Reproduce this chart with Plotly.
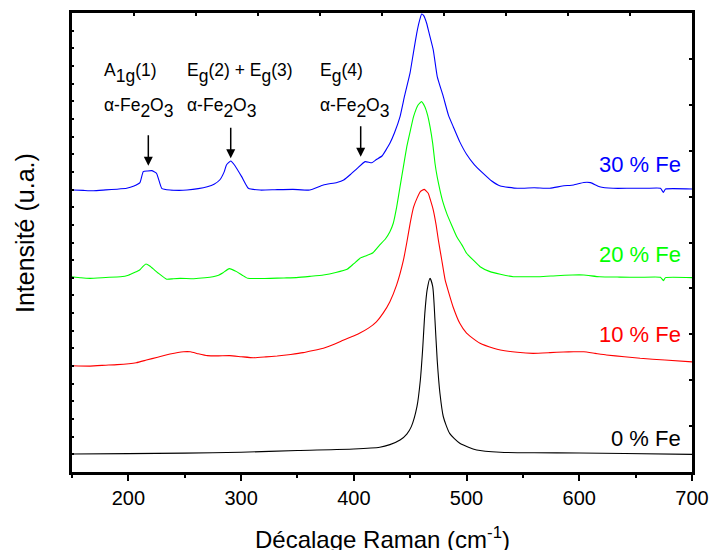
import plotly.graph_objects as go

# ---------------- data (arbitrary intensity units) ----------------
x_0 = [150, 200, 250, 300, 350, 400, 423, 432, 441, 447, 451, 456, 459, 461, 463, 465, 467.6,
       470, 472, 474, 476.4, 479.4, 485, 494, 509, 530, 560, 600, 640, 700]
y_0 = [1.02, 1.04, 1.07, 1.12, 1.22, 1.30, 1.40, 1.55, 1.81, 2.15, 2.57, 3.70, 5.2, 6.9, 9.0, 10.3, 10.97,
       10.5, 8.6, 6.3, 4.46, 3.13, 2.19, 1.63, 1.25, 1.12, 1.09, 1.08, 1.05, 1.00]

x_10 = [150, 166, 180, 190, 207, 216, 226, 237, 249, 255, 262, 270, 280, 290, 300, 311, 322, 332, 344, 355,
        364, 373, 382, 391, 398, 405, 413, 420, 426, 432, 438, 444, 447, 450, 453, 456, 459, 462.5, 466, 468,
        470.5, 473, 475, 478, 481, 484, 488, 494, 500, 503, 512, 524, 530, 545, 559, 574, 586, 595, 604, 614,
        624, 640, 654, 676, 700]
y_10 = [6.02, 6.00, 6.05, 6.08, 6.19, 6.34, 6.50, 6.68, 6.81, 6.81, 6.70, 6.59, 6.58, 6.59, 6.53, 6.47, 6.52,
        6.57, 6.66, 6.76, 6.88, 7.01, 7.22, 7.48, 7.66, 7.86, 8.15, 8.51, 9.0, 9.65, 10.6, 12.0, 13.0, 14.1,
        15.0, 15.5, 15.88, 16.01, 15.79, 15.4, 14.84, 14.0, 13.14, 12.01, 10.88, 10.2, 9.36, 8.42, 7.86, 7.70,
        7.29, 7.01, 6.91, 6.78, 6.72, 6.76, 6.80, 6.81, 6.81, 6.72, 6.63, 6.53, 6.44, 6.34, 6.24]

x_20 = [150, 158, 166, 180, 193, 200, 207, 210, 213, 215.6, 219, 223, 226.6, 234, 240, 246, 258, 268, 275,
        280, 284, 289.5, 296, 301, 306, 316, 326, 338, 349, 361, 373, 384, 394, 400, 405.5, 411, 417, 423,
        428, 432, 435, 438, 441, 444, 447, 450, 453, 457, 460, 463, 465.5, 467.6, 470, 472, 474, 476.4, 479,
        482.4, 487, 491.3, 496, 500, 506, 512, 520.8, 530, 541.5, 553, 565, 580, 594, 604, 618, 636, 654,
        672, 674.6, 676.5, 700]
y_20 = [11.06, 11.0, 10.97, 11.02, 11.06, 11.15, 11.35, 11.44, 11.65, 11.78, 11.67, 11.45, 11.26, 10.92,
        10.95, 10.97, 10.95, 11.00, 11.06, 11.15, 11.29, 11.52, 11.35, 11.15, 10.97, 10.96, 10.97, 10.99,
        11.01, 11.08, 11.16, 11.3, 11.48, 11.8, 12.11, 12.25, 12.42, 12.86, 13.2, 13.61, 14.09, 15.0, 16.16,
        17.3, 18.43, 19.3, 20.13, 20.79, 20.98, 20.69, 20.2, 19.56, 18.6, 17.49, 16.7, 15.97, 15.3, 14.65,
        13.95, 13.33, 12.85, 12.39, 12.0, 11.63, 11.35, 11.2, 11.06, 11.06, 11.06, 11.12, 11.16, 11.16,
        11.06, 11.04, 11.03, 11.03, 10.84, 11.01, 11.01]

x_30 = [151, 160, 169, 180, 190, 198.5, 205, 210.3, 213.2, 217, 220.7, 225, 229.6, 237, 245, 252, 262, 270,
        276, 281, 285, 287, 290.8, 294.6, 300.5, 306.4, 317, 330, 346, 361, 373, 385, 391, 397, 403, 410,
        416, 420, 425, 432, 436, 441, 445, 449.8, 453, 455.8, 458, 460.2, 462, 464.6, 467, 470.5, 474,
        479.4, 484, 488.2, 494, 500, 507, 515, 522, 530, 545, 560, 574, 585, 595, 604, 610, 618, 630, 645,
        660, 672, 674.6, 676.5, 700]
y_30 = [15.97, 15.95, 15.93, 15.98, 16.02, 16.07, 16.2, 16.39, 17.01, 17.05, 17.07, 16.92, 16.07, 15.97,
        15.95, 15.97, 16.05, 16.16, 16.3, 16.54, 17.0, 17.39, 17.62, 17.35, 16.73, 16.07, 15.97, 15.99,
        16.01, 15.97, 16.26, 16.4, 16.54, 16.85, 17.20, 17.58, 17.52, 17.7, 17.90, 18.62, 19.2, 20.13, 21.3,
        22.58, 23.8, 24.85, 25.5, 25.94, 25.85, 25.42, 24.8, 23.90, 22.4, 21.26, 20.2, 19.56, 18.7, 18.0,
        17.4, 16.9, 16.5, 16.2, 16.07, 16.1, 16.07, 16.2, 16.26, 16.4, 16.39, 16.16, 16.07, 16.07, 16.07,
        16.07, 15.84, 16.03, 16.03]

series_names = ["0 % Fe", "10 % Fe", "20 % Fe", "30 % Fe"]
series_colors = ["#000000", "#FF0000", "#00FF00", "#0000FF"]
label_levels = [1.9, 7.8, 12.3, 17.4]          # vertical position of series labels

peak_x = [217.7, 290.8, 406.1]                  # arrow positions (cm-1)
peak_y = [17.35, 17.77, 17.86]

def sub(t):
    return "<sub><sub><span style='font-size:17.5px'>" + t + "</span></sub></sub>"

peak_modes = ["A" + sub("1g") + "(1)",
              "E" + sub("g") + "(2) + E" + sub("g") + "(3)",
              "E" + sub("g") + "(4)"]
phase = "α-Fe" + sub("2") + "O" + sub("3")
text_left_x = [176.5, 250.5, 368.5]

FONT = "Liberation Sans, Arial, Helvetica, sans-serif"

fig = go.Figure()
xs = [x_0, x_10, x_20, x_30]
ys = [y_0, y_10, y_20, y_30]
smooth = [0.6, 0.4, 0.4, 0.4]
for i in range(4):
    fig.add_trace(go.Scatter(
        x=xs[i], y=ys[i], mode="lines", name=series_names[i],
        line=dict(color=series_colors[i], width=1.1, shape="spline", smoothing=smooth[i]),
        hoverinfo="skip", showlegend=False))

# invisible trace for the secondary frame axes
fig.add_trace(go.Scatter(x=[0, 10], y=[0, 10], xaxis="x2", yaxis="y2", mode="markers",
                         marker=dict(opacity=0), hoverinfo="skip", showlegend=False))

annotations = []
for i in range(4):
    annotations.append(dict(x=692, y=label_levels[i], xref="x", yref="y", text=series_names[i],
                            showarrow=False, xanchor="right", yanchor="middle",
                            font=dict(family=FONT, size=22, color=series_colors[i])))
for i in range(3):
    annotations.append(dict(x=text_left_x[i], y=(472 - 73) / 459, xref="x", yref="paper",
                            text=peak_modes[i], showarrow=False, xanchor="left", yanchor="middle",
                            font=dict(family=FONT, size=17.5, color="black")))
    annotations.append(dict(x=text_left_x[i], y=(472 - 108) / 459, xref="x", yref="paper",
                            text=phase, showarrow=False, xanchor="left", yanchor="middle",
                            font=dict(family=FONT, size=17.5, color="black")))
    annotations.append(dict(x=peak_x[i], y=peak_y[i], xref="x", yref="y", text="",
                            showarrow=True, ax=0, ay=-32, arrowhead=2, arrowsize=1.2,
                            arrowwidth=1.5, arrowcolor="black"))

# axis titles
annotations.append(dict(x=0.5, y=(472 - 538) / 459, xref="paper", yref="paper",
                        text="Décalage Raman (cm<sup>-1</sup>)", showarrow=False,
                        xanchor="center", yanchor="middle",
                        font=dict(family=FONT, size=24, color="black")))
annotations.append(dict(x=(25 - 72) / 620, y=(472 - 233) / 459, xref="paper", yref="paper",
                        text="Intensité (u.a.)", showarrow=False, textangle=-90,
                        xanchor="center", yanchor="middle",
                        font=dict(family=FONT, size=25, color="black")))

fig.update_layout(
    width=709, height=550, autosize=False,
    margin=dict(l=72, r=17, t=13, b=78),
    plot_bgcolor="white", paper_bgcolor="white",
    font=dict(family=FONT, color="black"),
    xaxis=dict(range=[150, 700], tickvals=[200, 300, 400, 500, 600, 700], automargin=False,
               ticks="outside", ticklen=6, tickwidth=1.5, tickcolor="black",
               minor=dict(tickvals=[150, 250, 350, 450, 550, 650], ticks="outside",
                          ticklen=3, tickwidth=1.5, tickcolor="black"),
               showline=True, linewidth=2.5, linecolor="black", showgrid=False, zeroline=False,
               tickfont=dict(family=FONT, size=20, color="black")),
    yaxis=dict(range=[0, 26], dtick=1, tick0=0, ticks="inside", ticklen=2, tickwidth=1.5,
               automargin=False,
               tickcolor="black", showticklabels=False, showline=True, linewidth=2.5,
               linecolor="black", showgrid=False, zeroline=False),
    xaxis2=dict(range=[0, 10], dtick=1, tick0=0, overlaying="x", side="top", ticks="inside",
                automargin=False,
                ticklen=3, tickwidth=1.5, tickcolor="black", showticklabels=False, showline=True,
                linewidth=2.5, linecolor="black", showgrid=False, zeroline=False),
    yaxis2=dict(range=[0, 10], dtick=1, tick0=0, overlaying="y", side="right", ticks="inside",
                automargin=False,
                ticklen=3, tickwidth=1.5, tickcolor="black", showticklabels=False, showline=True,
                linewidth=2.5, linecolor="black", showgrid=False, zeroline=False),
    annotations=annotations,
)

fig.write_html("out.html",
               config={"responsive": False, "displayModeBar": False},
               post_script="document.body.style.margin='0';document.body.style.padding='0';"
                           "document.body.style.overflow='hidden';"
                           "document.documentElement.style.overflow='hidden';")
